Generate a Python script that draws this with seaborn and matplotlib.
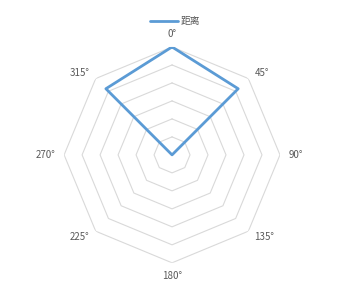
import numpy as np
import pandas as pd
import matplotlib
matplotlib.use("Agg")
import matplotlib.pyplot as plt
import seaborn as sns

categories = ["0°", "45°", "90°", "135°", "180°", "225°", "270°", "315°"]
values = [6, 5.2, 0, 0, 0, 0, 0, 5.2]
series_name = "距离"
ring_levels = [1, 2, 3, 4, 5, 6]

sns.set_theme(style="white")
plt.rcParams["font.family"] = ["Noto Sans CJK SC", "DejaVu Sans"]

n = len(categories)
angles = np.arange(n) * 2 * np.pi / n
closed_angles = np.append(angles, 2 * np.pi)

df = pd.DataFrame({
    "theta": closed_angles,
    "r": values + [values[0]],
    "series": series_name,
})

fig = plt.figure(figsize=(3.37, 2.99), dpi=100)
ax = fig.add_axes([0.190, 0.121, 0.641, 0.722], projection="polar")
ax.set_theta_zero_location("N")
ax.set_theta_direction(-1)
ax.set_ylim(0, max(ring_levels))

# octagonal grid
for lv in ring_levels:
    ax.plot(closed_angles, [lv] * len(closed_angles), color="#d9d9d9",
            lw=0.8, zorder=1)

sns.lineplot(data=df, x="theta", y="r", hue="series", sort=False,
             estimator=None, palette=["#5B9BD5"], linewidth=2.0, ax=ax,
             zorder=3, legend=True)

ax.grid(False)
ax.spines["polar"].set_visible(False)
ax.set_xticks([])
ax.set_yticks([])
ax.set_xlabel("")
ax.set_ylabel("")

outer = max(ring_levels)
for a, lab in zip(angles, categories):
    sx, cy = np.sin(a), np.cos(a)
    if sx > 0.1:
        ha = "left"
    elif sx < -0.1:
        ha = "right"
    else:
        ha = "center"
    if cy > 0.9:
        va = "bottom"
    elif cy < -0.9:
        va = "top"
    else:
        va = "center"
    off = 6
    ax.annotate(lab, xy=(a, outer), xytext=(sx * off, cy * off),
                textcoords="offset points", ha=ha, va=va,
                fontsize=7, color="#595959")

handles, labels = ax.get_legend_handles_labels()
if ax.get_legend() is not None:
    ax.get_legend().remove()
fig.legend(handles, labels, loc="upper center", bbox_to_anchor=(0.52, 0.975),
           frameon=False, fontsize=7, handlelength=2.8, handletextpad=0.3,
           labelcolor="#595959")

fig.savefig("out.png", dpi=100, facecolor="white")
